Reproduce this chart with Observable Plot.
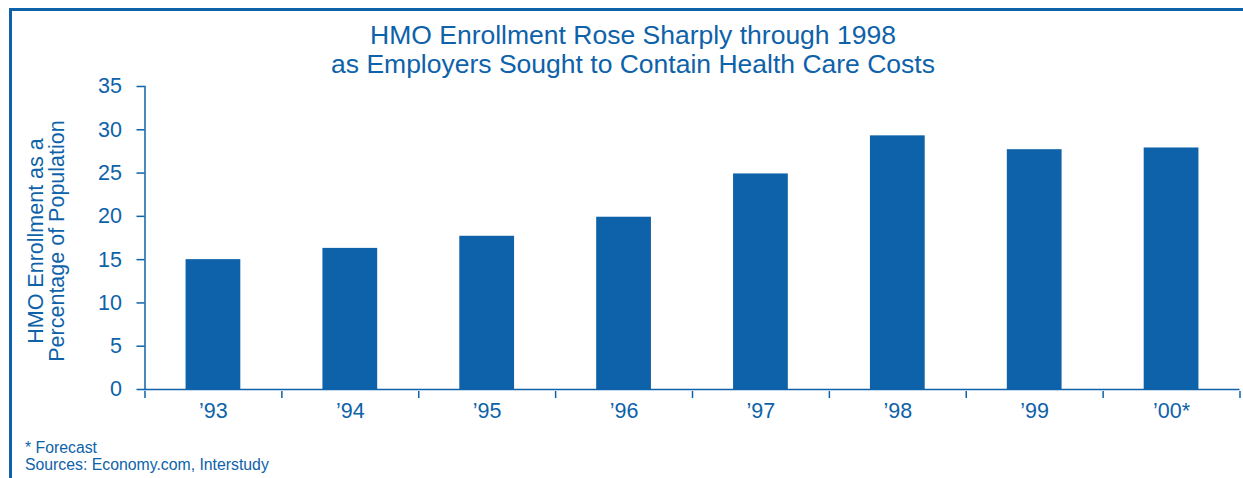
<!DOCTYPE html>
<html>
<head>
<meta charset="utf-8">
<script src="https://cdn.jsdelivr.net/npm/d3@7"></script>
<script src="https://cdn.jsdelivr.net/npm/@observablehq/plot@0.6"></script>
<style>
  html, body { margin: 0; padding: 0; background: #fff; }
  body { font-family: "Liberation Sans", Arial, Helvetica, sans-serif; color: #0d62a9; }
  #wrap { position: relative; width: 1243px; height: 478px; overflow: hidden; }
  #border { position: absolute; left: 9px; top: 8px; right: -10px; bottom: -10px;
            border-top: 3px solid #0d62a9; border-left: 3px solid #0d62a9; }
  #chart { position: absolute; left: 0; top: 0; }
  #title { position: absolute; left: 0; width: 1266px; top: 21px; text-align: center;
           font-size: 26.5px; line-height: 29px; }
  #ylabel { position: absolute; left: 47px; top: 241px; width: 320px; text-align: center;
            font-size: 21.5px; line-height: 21px; transform: translate(-50%, -50%) rotate(-90deg); }
  #notes { position: absolute; left: 25px; top: 440px; font-size: 15.8px; line-height: 16.5px; }
</style>
</head>
<body>
<div id="wrap">
  <div id="border"></div>
  <div id="chart"></div>
  <div id="title">HMO Enrollment Rose Sharply through 1998<br>as Employers Sought to Contain Health Care Costs</div>
  <div id="ylabel">HMO Enrollment as a<br>Percentage of Population</div>
  <div id="notes">* Forecast<br>Sources: Economy.com, Interstudy</div>
</div>
<script>
const years = ["\u201993", "\u201994", "\u201995", "\u201996", "\u201997", "\u201998", "\u201999", "\u201900*"];
const enrollment = [15.0, 16.3, 17.7, 19.9, 24.9, 29.3, 27.7, 27.9];
const yTicks = [0, 5, 10, 15, 20, 25, 30, 35];

const data = years.map((year, i) => ({year, value: enrollment[i]}));

const blue = "#0d62a9";
const W = 1243, H = 478;
const mL = 144.5, mR = 3.5, mT = 86, mB = 89;
const step = (W - mL - mR) / years.length;
const frameH = H - mT - mB;

const chart = Plot.plot({
  width: W,
  height: H,
  marginLeft: mL,
  marginRight: mR,
  marginTop: mT,
  marginBottom: mB,
  style: {fontFamily: "'Liberation Sans', Arial, sans-serif", color: blue, background: "transparent"},
  x: {domain: years, paddingInner: 0.6, paddingOuter: 0.3, round: false, axis: null},
  y: {domain: [0, 35], axis: null},
  marks: [
    Plot.barY(data, {x: "year", y: "value", fill: blue}),
    Plot.frame({anchor: "left", stroke: blue, strokeWidth: 1.5}),
    Plot.ruleY([0], {stroke: blue, strokeWidth: 1.5}),
    Plot.axisY({ticks: yTicks, tickSize: 8, tickPadding: 15, fontSize: 21.5, stroke: blue, fill: blue, label: null, strokeWidth: 1.5}),
    Plot.ruleX(years, {x: d => d, dx: -step / 2, insetTop: frameH + 2, insetBottom: -9, stroke: blue, strokeWidth: 1.5}),
    Plot.ruleX([years[years.length - 1]], {x: d => d, dx: step / 2, insetTop: frameH + 2, insetBottom: -9, stroke: blue, strokeWidth: 1.5}),
    Plot.axisX({tickSize: 0, tickPadding: 13, fontSize: 21.5, fill: blue, label: null})
  ]
});
document.getElementById("chart").appendChild(chart);
</script>
</body>
</html>
